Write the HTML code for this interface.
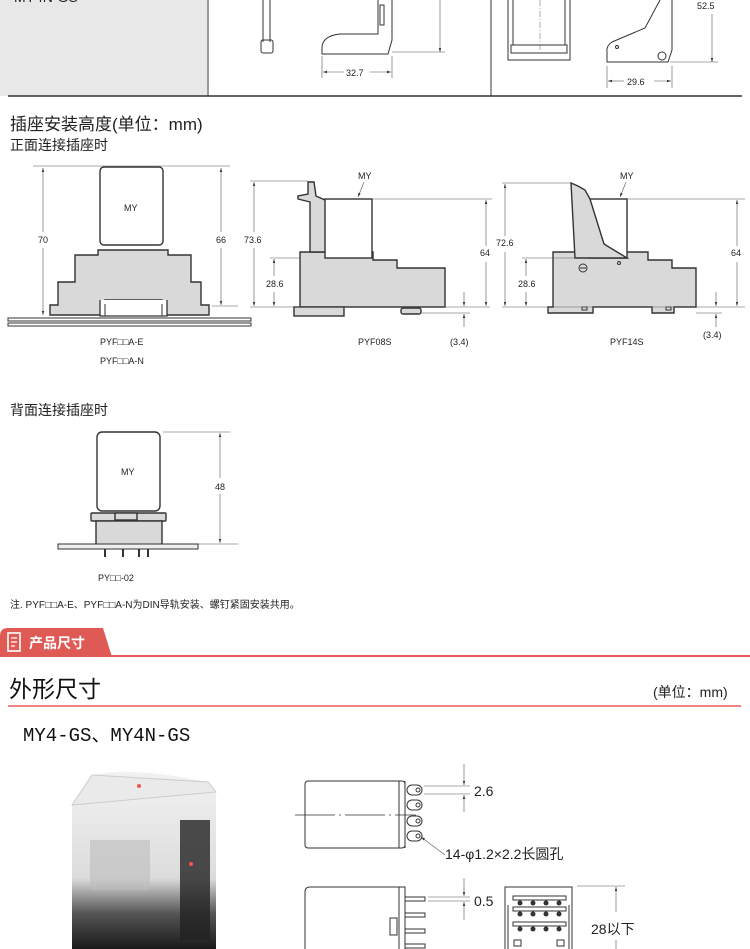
<!DOCTYPE html>
<html><head><meta charset="utf-8"><style>
html,body{margin:0;padding:0;background:#fff;width:750px;height:949px;overflow:hidden}
svg{display:block}
text{font-family:"Liberation Sans","Noto Sans CJK SC",sans-serif;fill:#222}
.d{font-size:9px}
.ln{stroke:#333;stroke-width:1;fill:none}
.th{stroke:#555;stroke-width:.6;fill:none}
.g{fill:#d9d9d9;stroke:#333;stroke-width:1.4}
.w{fill:#fff;stroke:#333;stroke-width:1.4}
</style></head><body>
<svg width="750" height="949" viewBox="0 0 750 949" xmlns="http://www.w3.org/2000/svg">
<defs>
<marker id="a" viewBox="0 0 10 10" refX="10" refY="5" markerWidth="7" markerHeight="7" orient="auto-start-reverse"><path d="M0,2 L10,5 L0,8 z" fill="#333"/></marker>
<linearGradient id="ph" x1="0" y1="0" x2="0" y2="1"><stop offset="0" stop-color="#f2f2f2"/><stop offset=".6" stop-color="#dcdcdc"/><stop offset=".8" stop-color="#555"/><stop offset="1" stop-color="#1a1a1a"/></linearGradient>
</defs>

<!-- Top section -->
<rect x="0" y="0" width="207" height="96" fill="#e8e8e8"/>
<text x="14" y="2" font-size="14">MY4N-GS</text>
<line x1="208" y1="0" x2="208" y2="96" stroke="#333"/>
<line x1="491" y1="0" x2="491" y2="96" stroke="#333"/>
<line x1="8" y1="96" x2="742" y2="96" stroke="#333" stroke-width="1.5"/>
<!-- left pin -->
<path d="M263,0 V42 M270,0 V42" class="ln"/>
<rect x="261" y="40" width="12" height="13" rx="2" class="ln"/>
<!-- L bracket -->
<path d="M378,0 V34 H340 Q322,36 322,48 V54 H388 L392,40 V0" class="ln" fill="#fff"/>
<rect x="380" y="5" width="4" height="20" class="ln"/>
<line x1="392" y1="52" x2="445" y2="52" class="th"/>
<line x1="440" y1="0" x2="440" y2="52" class="th" marker-end="url(#a)"/>
<line x1="322" y1="56" x2="322" y2="78" class="th"/><line x1="392" y1="56" x2="392" y2="78" class="th"/>
<line x1="323" y1="72" x2="344" y2="72" class="th" marker-start="url(#a)"/><line x1="370" y1="72" x2="391" y2="72" class="th" marker-end="url(#a)"/>
<text x="346" y="76" class="d">32.7</text>
<!-- right group -->
<path d="M508,0 V60 H570 V0 M513,0 V45 H565 V0" class="ln"/>
<rect x="511" y="45" width="56" height="8" class="ln"/>
<line x1="540" y1="0" x2="540" y2="55" stroke="#777" stroke-dasharray="6,2,1,2" stroke-width=".6"/>
<path d="M660,0 L645,28 L612,42 Q606,46 607,52 V62 H668 L672,50 V0" class="ln"/>
<circle cx="617" cy="47" r="1.5" class="ln"/><circle cx="662" cy="56" r="4" class="ln"/>
<line x1="670" y1="62" x2="718" y2="62" class="th"/>
<line x1="712" y1="14" x2="712" y2="62" class="th" marker-end="url(#a)"/>
<text x="697" y="9" class="d" font-size="10">52.5</text>
<line x1="607" y1="66" x2="607" y2="88" class="th"/><line x1="672" y1="66" x2="672" y2="88" class="th"/>
<line x1="608" y1="81" x2="624" y2="81" class="th" marker-start="url(#a)"/><line x1="654" y1="81" x2="671" y2="81" class="th" marker-end="url(#a)"/>
<text x="627" y="85" class="d">29.6</text>

<text x="10" y="130" font-size="17">插座安装高度(单位：mm)</text>
<text x="10" y="150" font-size="14">正面连接插座时</text>

<!-- Diagram 1 DIN -->
<rect x="100" y="167" width="63" height="78" rx="4" class="w"/>
<text x="124" y="211" class="d" font-size="10">MY</text>
<path d="M98,250 H168 V255 H191 V282 H201 V305 H209 V315 H162 V300 H105 V315 H50 V305 H58 V282 H75 V255 H98 Z" class="g"/>
<path d="M100,300 V316 H167 V300" fill="#fff" stroke="#333" stroke-width="1.3"/>
<path d="M105,304 V316 H162 V304" fill="none" stroke="#333" stroke-width="1"/>
<rect x="8" y="318" width="243" height="3" fill="#fff" stroke="#333" stroke-width="1"/>
<rect x="8" y="323" width="243" height="3" fill="#fff" stroke="#333" stroke-width="1"/>
<line x1="33" y1="166" x2="230" y2="166" class="th"/>
<line x1="212" y1="306" x2="238" y2="306" class="th"/>
<line x1="43" y1="232" x2="43" y2="168" class="th" marker-end="url(#a)"/><line x1="43" y1="248" x2="43" y2="315" class="th" marker-end="url(#a)"/>
<text x="38" y="243" class="d">70</text>
<line x1="221" y1="232" x2="221" y2="168" class="th" marker-end="url(#a)"/><line x1="221" y1="248" x2="221" y2="305" class="th" marker-end="url(#a)"/>
<text x="216" y="243" class="d">66</text>
<text x="100" y="345" class="d" font-size="10">PYF□□A-E</text>
<text x="100" y="364" class="d" font-size="10">PYF□□A-N</text>

<!-- PYF08S -->
<path d="M300,252 H373 V260 H397 V268 H421 V268 H445 V307 H300 Z" class="g"/>
<path d="M308,182 L314,182 L316,196 L325,200 L330,204 V252 H310 V202 L298,199 V196 L308,194 Z" class="g"/>
<rect x="325" y="199" width="47" height="59" class="w"/>
<rect x="294" y="307" width="50" height="9" class="g"/>
<rect x="401" y="308" width="20" height="6" rx="2" class="g"/>
<text x="358" y="179" class="d">MY</text>
<line x1="364" y1="182" x2="358" y2="197" class="th" marker-end="url(#a)"/>
<line x1="250" y1="181" x2="308" y2="181" class="th"/>
<line x1="372" y1="199" x2="492" y2="199" class="th"/>
<line x1="250" y1="307" x2="490" y2="307" class="th"/>
<line x1="270" y1="258" x2="300" y2="258" class="th"/>
<line x1="421" y1="313" x2="470" y2="313" class="th"/>
<line x1="254" y1="232" x2="254" y2="182" class="th" marker-end="url(#a)"/><line x1="254" y1="248" x2="254" y2="306" class="th" marker-end="url(#a)"/>
<text x="244" y="243" class="d">73.6</text>
<line x1="274" y1="276" x2="274" y2="259" class="th" marker-end="url(#a)"/><line x1="274" y1="292" x2="274" y2="306" class="th" marker-end="url(#a)"/>
<text x="266" y="287" class="d">28.6</text>
<line x1="486" y1="246" x2="486" y2="200" class="th" marker-end="url(#a)"/><line x1="486" y1="262" x2="486" y2="306" class="th" marker-end="url(#a)"/>
<text x="480" y="256" class="d">64</text>
<line x1="464" y1="292" x2="464" y2="306" class="th" marker-end="url(#a)"/><line x1="464" y1="327" x2="464" y2="314" class="th" marker-end="url(#a)"/>
<text x="450" y="345" class="d" font-size="8">(3.4)</text>
<text x="358" y="345" class="d" font-size="10">PYF08S</text>

<!-- PYF14S -->
<path d="M553,252 H648 V260 H672 V268 H696 V307 H674 V313 H652 V307 H593 V313 H548 V307 H553 Z" class="g"/>
<rect x="589" y="199" width="38" height="59" class="w"/>
<path d="M571,183 L578,186 L585,190 L590,199 L604,244 L627,258 H575 Z" class="g"/>
<circle cx="583" cy="268" r="4" class="ln"/><line x1="580" y1="268" x2="586" y2="268" class="ln"/>
<circle cx="619" cy="263" r="1.5" class="ln"/>
<rect x="582" y="307" width="5" height="3" class="ln"/><rect x="666" y="307" width="5" height="3" class="ln"/>
<text x="620" y="179" class="d">MY</text>
<line x1="626" y1="182" x2="620" y2="197" class="th" marker-end="url(#a)"/>
<line x1="502" y1="183" x2="571" y2="183" class="th"/>
<line x1="627" y1="199" x2="745" y2="199" class="th"/>
<line x1="502" y1="307" x2="745" y2="307" class="th"/>
<line x1="522" y1="258" x2="575" y2="258" class="th"/>
<line x1="696" y1="313" x2="722" y2="313" class="th"/>
<line x1="505" y1="236" x2="505" y2="184" class="th" marker-end="url(#a)"/><line x1="505" y1="252" x2="505" y2="306" class="th" marker-end="url(#a)"/>
<text x="496" y="246" class="d">72.6</text>
<line x1="526" y1="276" x2="526" y2="259" class="th" marker-end="url(#a)"/><line x1="526" y1="292" x2="526" y2="306" class="th" marker-end="url(#a)"/>
<text x="518" y="287" class="d">28.6</text>
<line x1="737" y1="246" x2="737" y2="200" class="th" marker-end="url(#a)"/><line x1="737" y1="262" x2="737" y2="306" class="th" marker-end="url(#a)"/>
<text x="731" y="256" class="d">64</text>
<line x1="716" y1="292" x2="716" y2="306" class="th" marker-end="url(#a)"/><line x1="716" y1="327" x2="716" y2="314" class="th" marker-end="url(#a)"/>
<text x="703" y="338" class="d" font-size="8">(3.4)</text>
<text x="610" y="345" class="d" font-size="10">PYF14S</text>

<!-- Back connection -->
<text x="10" y="415" font-size="14">背面连接插座时</text>
<rect x="97" y="432" width="63" height="79" rx="5" class="w"/>
<text x="121" y="475" class="d" font-size="10">MY</text>
<rect x="91" y="513" width="75" height="8" rx="1" class="g"/>
<rect x="96" y="521" width="66" height="24" class="g"/>
<rect x="115" y="513" width="22" height="7" class="g"/>
<rect x="58" y="544" width="140" height="5" fill="#eee" stroke="#333"/>
<g stroke="#333" stroke-width="2"><line x1="105" y1="549" x2="105" y2="557"/><line x1="123" y1="549" x2="123" y2="557"/><line x1="139" y1="549" x2="139" y2="557"/><line x1="148" y1="549" x2="148" y2="557"/></g>
<line x1="163" y1="432" x2="230" y2="432" class="th"/>
<line x1="198" y1="544" x2="238" y2="544" class="th"/>
<line x1="220" y1="478" x2="220" y2="433" class="th" marker-end="url(#a)"/><line x1="220" y1="494" x2="220" y2="543" class="th" marker-end="url(#a)"/>
<text x="215" y="490" class="d">48</text>
<text x="98" y="581" class="d" font-size="10">PY□□-02</text>
<text x="10" y="608" font-size="10">注. PYF□□A-E、PYF□□A-N为DIN导轨安装、螺钉紧固安装共用。</text>

<!-- Red header -->
<path d="M0,636 Q0,628 8,628 H103 L112,657 H0 Z" fill="#e05a55"/>
<rect x="8" y="633" width="12" height="18" fill="none" stroke="#fff" stroke-width="1.6"/>
<path d="M11,638 H17 M11,642 H17 M11,646 H15" stroke="#fff" stroke-width="1.3"/>
<text x="29" y="648" font-size="14" font-weight="bold" style="fill:#fff">产品尺寸</text>
<line x1="110" y1="656" x2="750" y2="656" stroke="#e85a5a" stroke-width="2"/>
<text x="9" y="697" font-size="23" style="fill:#111">外形尺寸</text>
<text x="653" y="697" font-size="14">(单位：mm)</text>
<line x1="8" y1="706" x2="741" y2="706" stroke="#e85a5a" stroke-width="1.5"/>
<text x="23" y="741" font-size="19" style="fill:#111;font-family:'Liberation Mono','Noto Sans CJK SC',monospace">MY4-GS、MY4N-GS</text>

<!-- photo -->
<path d="M72,805 L92,775 Q130,766 208,782 L216,792 V949 H72 Z" fill="url(#ph)"/>
<path d="M92,775 L208,782 L216,792 L72,805 Z" fill="#eaeaea" stroke="#ccc"/>
<rect x="180" y="820" width="30" height="120" fill="#222" opacity=".8"/>
<rect x="90" y="840" width="60" height="50" fill="#bdbdbd" opacity=".6"/>
<circle cx="139" cy="786" r="2" fill="#e55"/><circle cx="191" cy="864" r="2" fill="#e55"/>

<!-- top view -->
<rect x="305" y="781" width="100" height="67" rx="3" class="ln" fill="#fff"/>
<line x1="399" y1="781" x2="399" y2="848" class="ln"/><line x1="405" y1="781" x2="405" y2="848" class="ln"/>
<line x1="295" y1="815" x2="416" y2="815" stroke="#333" stroke-width=".7" stroke-dasharray="40,4,2,4"/>
<g class="ln">
<rect x="407" y="785" width="15" height="10" rx="5"/><circle cx="418" cy="790" r="2"/>
<rect x="407" y="800" width="15" height="10" rx="5"/><circle cx="418" cy="805" r="2"/>
<rect x="407" y="816" width="15" height="10" rx="5"/><circle cx="418" cy="821" r="2"/>
<rect x="407" y="831" width="15" height="10" rx="5"/><circle cx="418" cy="836" r="2"/>
</g>
<line x1="424" y1="786" x2="470" y2="786" class="th"/><line x1="424" y1="794" x2="470" y2="794" class="th"/>
<line x1="464" y1="764" x2="464" y2="785" class="th" marker-end="url(#a)"/><line x1="464" y1="812" x2="464" y2="795" class="th" marker-end="url(#a)"/>
<text x="474" y="796" font-size="14">2.6</text>
<line x1="445" y1="855" x2="421" y2="837" class="th" marker-end="url(#a)"/>
<text x="445" y="859" font-size="14">14-φ1.2×2.2长圆孔</text>

<!-- side view -->
<path d="M305,949 V892 Q305,887 310,887 H405 V949" class="ln" fill="#fff"/>
<line x1="399" y1="887" x2="399" y2="949" class="ln"/>
<rect x="390" y="918" width="7" height="17" class="ln"/>
<g class="ln"><rect x="405" y="897" width="20" height="4"/><rect x="405" y="913" width="20" height="4"/><rect x="405" y="929" width="20" height="4"/><rect x="405" y="944" width="20" height="4"/></g>
<line x1="428" y1="897" x2="470" y2="897" class="th"/><line x1="428" y1="901" x2="470" y2="901" class="th"/>
<line x1="464" y1="878" x2="464" y2="896" class="th" marker-end="url(#a)"/><line x1="464" y1="920" x2="464" y2="902" class="th" marker-end="url(#a)"/>
<text x="474" y="906" font-size="14">0.5</text>

<!-- bottom view -->
<path d="M505,949 V887 H572 V949" class="ln"/>
<line x1="508" y1="905" x2="508" y2="949" class="ln"/><line x1="569" y1="905" x2="569" y2="949" class="ln"/>
<g fill="#fff" stroke="#333" stroke-width="1">
<rect x="513" y="896" width="53" height="4"/><rect x="513" y="907" width="53" height="4"/><rect x="513" y="922" width="53" height="4"/>
</g>
<g fill="#333">
<circle cx="520" cy="903" r="2.5"/><circle cx="533" cy="903" r="2.5"/><circle cx="546" cy="903" r="2.5"/><circle cx="559" cy="903" r="2.5"/>
<circle cx="520" cy="914" r="2.5"/><circle cx="533" cy="914" r="2.5"/><circle cx="546" cy="914" r="2.5"/><circle cx="559" cy="914" r="2.5"/>
<circle cx="520" cy="929" r="2.5"/><circle cx="533" cy="929" r="2.5"/><circle cx="546" cy="929" r="2.5"/><circle cx="559" cy="929" r="2.5"/>
</g>
<rect x="514" y="940" width="7" height="6" class="ln"/><rect x="557" y="940" width="7" height="6" class="ln"/>
<line x1="577" y1="886" x2="625" y2="886" class="th"/>
<line x1="616" y1="912" x2="616" y2="887" class="th" marker-end="url(#a)"/><line x1="616" y1="940" x2="616" y2="949" class="th"/>
<text x="591" y="934" font-size="14">28以下</text>
</svg>
</body></html>
